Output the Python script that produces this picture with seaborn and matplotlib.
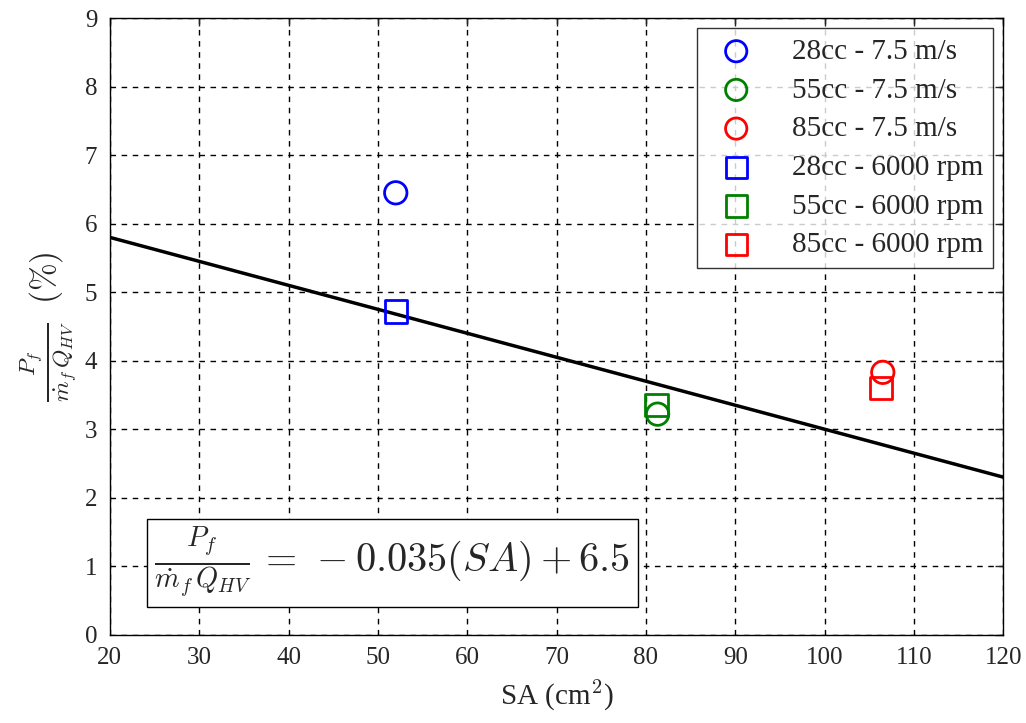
import matplotlib
matplotlib.use("Agg")
import pandas as pd
import seaborn as sns
import matplotlib.pyplot as plt

# data
labels = ['28cc - 7.5 m/s', '55cc - 7.5 m/s', '85cc - 7.5 m/s',
          '28cc - 6000 rpm', '55cc - 6000 rpm', '85cc - 6000 rpm']
sa_vals = [52.0, 81.3, 106.5, 52.0, 81.2, 106.3]
eff_vals = [6.45, 3.22, 3.83, 4.72, 3.35, 3.60]
colors = ['blue', 'green', 'red', 'blue', 'green', 'red']
markers = ['o', 'o', 'o', 's', 's', 's']

fit_x = [20, 120]
fit_y = [5.8, 2.3]

df = pd.DataFrame({'SA': sa_vals, 'eff': eff_vals, 'label': labels})

sns.set_style('white')
plt.rcParams['font.family'] = ['Liberation Serif', 'DejaVu Serif']
plt.rcParams['mathtext.fontset'] = 'cm'

fig = plt.figure(figsize=(10.26, 7.23), dpi=100)
ax = fig.add_axes([0.107, 0.122, 0.871, 0.853])

sns.lineplot(x=fit_x, y=fit_y, color='black', linewidth=2.5, ax=ax, zorder=3)

for i, row in df.iterrows():
    sub = df.iloc[[i]]
    sns.scatterplot(data=sub, x='SA', y='eff', marker=markers[i], s=260,
                    color='none', edgecolor=colors[i], linewidth=2,
                    label=row['label'], ax=ax, zorder=4)
for coll in ax.collections:
    coll.set_facecolor('none')

ax.set_xlim(20, 120)
ax.set_ylim(0, 9)
ax.set_xticks(range(20, 121, 10))
ax.set_yticks(range(0, 10))
ax.grid(True, color='black', linestyle=(0, (4, 4)), linewidth=1)
ax.tick_params(direction='in', top=True, right=True, length=6, labelsize=18,
               width=1, pad=9)
for s in ax.spines.values():
    s.set_color('black')
    s.set_linewidth(1.0)

ax.set_xlabel(r'SA (cm$^2$)', fontsize=21, labelpad=6)
ax.set_ylabel(r'$\frac{P_f}{\dot{m}_f\,Q_{HV}}$  $(\%)$', fontsize=24,
              labelpad=4)

leg = ax.legend(loc='upper right', fontsize=21, frameon=True, fancybox=False,
                edgecolor='black', borderpad=0.35, labelspacing=0.42,
                handletextpad=0.9, markerscale=0.95, borderaxespad=0.35)
leg.get_frame().set_linewidth(1.0)
for h in leg.legend_handles:
    h.set_facecolor('none')

ax.text(25.0, 1.05, r'$\frac{P_f}{\dot{m}_f\,Q_{HV}}\, =\, -0.035(SA) + 6.5$',
        fontsize=29, va='center', ha='left',
        bbox=dict(boxstyle='square,pad=0.18', facecolor='white',
                  edgecolor='black', linewidth=1.0), zorder=5)

fig.savefig('out.png', dpi=100)
